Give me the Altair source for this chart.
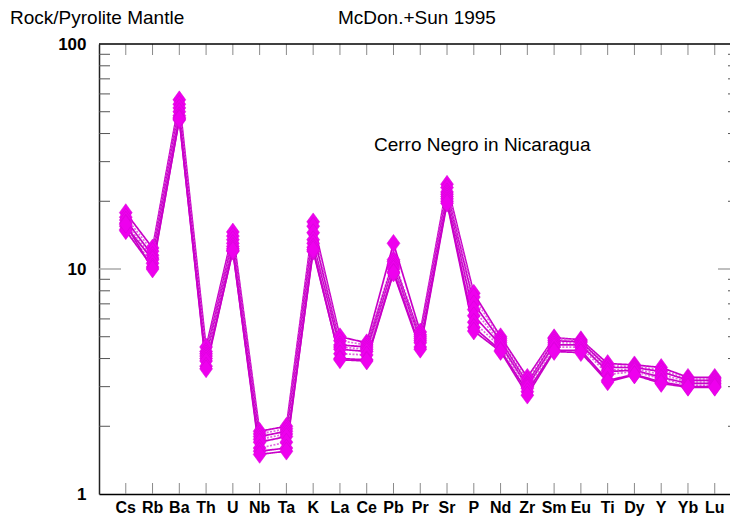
import altair as alt
import pandas as pd

# Trace elements in spider-diagram order
elements = ["Cs", "Rb", "Ba", "Th", "U", "Nb", "Ta", "K", "La", "Ce", "Pb", "Pr",
            "Sr", "P", "Nd", "Zr", "Sm", "Eu", "Ti", "Dy", "Y", "Yb", "Lu"]

# Rock / pyrolite-mantle normalised concentrations, one list per sample
cn1 = [17.8, 12.4, 56.5, 4.5, 14.6, 1.90, 2.00, 16.2, 5.00, 4.70, 13.0, 5.25, 23.8, 7.8, 5.00, 3.30, 4.95, 4.85, 3.80, 3.75, 3.65, 3.30, 3.30]
cn2 = [17.0, 12.0, 54.0, 4.3, 14.0, 1.85, 1.95, 15.5, 4.80, 4.60, 11.0, 5.10, 23.0, 7.5, 4.90, 3.20, 4.90, 4.80, 3.70, 3.70, 3.55, 3.25, 3.25]
cn3 = [16.5, 11.5, 52.0, 4.2, 13.5, 1.80, 1.90, 14.5, 4.60, 4.50, 10.8, 5.00, 22.0, 7.0, 4.80, 3.10, 4.80, 4.75, 3.65, 3.65, 3.50, 3.20, 3.20]
cn4 = [16.0, 11.2, 50.0, 4.1, 13.0, 1.75, 1.85, 13.5, 4.50, 4.40, 10.5, 4.90, 21.5, 6.6, 4.70, 3.05, 4.70, 4.70, 3.55, 3.60, 3.40, 3.15, 3.15]
cn5 = [15.5, 11.0, 48.0, 4.0, 12.6, 1.70, 1.80, 13.0, 4.40, 4.30, 10.2, 4.80, 21.0, 6.2, 4.60, 3.00, 4.60, 4.60, 3.50, 3.55, 3.30, 3.10, 3.10]
cn6 = [15.0, 10.6, 47.0, 3.9, 12.3, 1.60, 1.70, 12.5, 4.20, 4.15, 10.0, 4.70, 20.5, 5.8, 4.50, 2.95, 4.50, 4.50, 3.40, 3.50, 3.25, 3.05, 3.05]
cn7 = [14.8, 10.2, 46.0, 3.7, 12.0, 1.55, 1.60, 12.0, 4.00, 3.95, 9.7, 4.50, 20.0, 5.5, 4.35, 2.85, 4.35, 4.35, 3.20, 3.40, 3.15, 3.00, 3.00]
cn8 = [15.8, 10.0, 46.5, 3.6, 12.1, 1.50, 1.55, 12.2, 3.95, 3.90, 9.6, 4.40, 19.6, 5.3, 4.30, 2.75, 4.30, 4.25, 3.15, 3.38, 3.10, 2.98, 2.98]

samples = [cn1, cn2, cn3, cn4, cn5, cn6, cn7, cn8]
line_styles = ["solid", "dot", "solid", "dot", "solid", "dot", "solid", "solid"]

y_labels = [1, 10, 100]
minor_ticks = [2, 3, 4, 5, 6, 7, 8, 9, 20, 30, 40, 50, 60, 70, 80, 90]

W, H = 631, 450
x_max = 23.57

rows = []
for i, vals in enumerate(samples):
    for j, (el, v) in enumerate(zip(elements, vals)):
        rows.append({"sample": f"S{i+1}", "style": line_styles[i], "pos": j + 1,
                     "element": el, "value": v})
df = pd.DataFrame(rows)

xscale = alt.Scale(domain=[0, x_max], nice=False, zero=False)
yscale = alt.Scale(type="log", domain=[1, 100], nice=False)

x_enc = alt.X("pos:Q", scale=xscale,
              axis=alt.Axis(labels=False, title=None, ticks=False, grid=False,
                            domainColor="#000", domainWidth=1.5))
y_enc = alt.Y("value:Q", scale=yscale,
              axis=alt.Axis(values=y_labels, format="d", title=None, ticks=False, grid=False,
                            domainColor="#222", domainWidth=1.5,
                            labelFont="Liberation Sans", labelFontWeight="bold",
                            labelFontSize=17, labelColor="#000", labelPadding=13))

lines = alt.Chart(df).mark_line(strokeWidth=1.7).encode(
    x=x_enc,
    y=y_enc,
    detail="sample:N",
    color=alt.Color("style:N", scale=alt.Scale(domain=["solid", "dot"],
                                               range=["#C800C8", "#E066E0"]), legend=None),
    strokeDash=alt.StrokeDash("style:N", scale=alt.Scale(domain=["solid", "dot"],
                                                         range=[[1, 0], [2, 1.5]]), legend=None),
    order="pos:Q",
)

points = alt.Chart(df).mark_point(
    shape="M0,-1L0.72,0L0,1L-0.72,0Z", size=320, filled=True, opacity=1,
    color="#EE00EE", stroke="#D400D4", strokeWidth=0.5,
).encode(x=alt.X("pos:Q", scale=xscale), y=alt.Y("value:Q", scale=yscale))

# Element names under the category positions
el_df = pd.DataFrame({"pos": list(range(1, 24)), "element": elements})
el_labels = alt.Chart(el_df).mark_text(
    baseline="middle", align="center", font="Liberation Sans", fontWeight="bold",
    fontSize=16, color="#000",
).encode(x=alt.X("pos:Q", scale=xscale), y=alt.value(H + 14), text="element:N")

# Frame line along the top
top_line = alt.Chart(pd.DataFrame({"a": [0]})).mark_rule(color="#000", strokeWidth=1.5).encode(
    x=alt.value(0), x2=alt.value(W), y=alt.value(0))

# Inward tick marks on the category axis (bottom and top)
xt = pd.DataFrame({"pos": list(range(1, 24))})
xticks_bottom = alt.Chart(xt).mark_rule(color="#8a8a8a", strokeWidth=1).encode(
    x=alt.X("pos:Q", scale=xscale), y=alt.value(H - 11), y2=alt.value(H))
xticks_top = alt.Chart(xt).mark_rule(color="#8a8a8a", strokeWidth=1).encode(
    x=alt.X("pos:Q", scale=xscale), y=alt.value(0), y2=alt.value(11))

# Inward log tick marks on both sides
yt = pd.DataFrame({"v": minor_ticks})
ymajor = pd.DataFrame({"v": [10]})
yticks_left = alt.Chart(yt).mark_rule(color="#555", strokeWidth=1).encode(
    y=alt.Y("v:Q", scale=yscale), x=alt.value(0), x2=alt.value(11))
ymajor_left = alt.Chart(ymajor).mark_rule(color="#aaa", strokeWidth=1.5).encode(
    y=alt.Y("v:Q", scale=yscale), x=alt.value(0), x2=alt.value(22))
yticks_right = alt.Chart(yt).mark_rule(color="#555", strokeWidth=1).encode(
    y=alt.Y("v:Q", scale=yscale), x=alt.value(W - 2), x2=alt.value(W))
ymajor_right = alt.Chart(ymajor).mark_rule(color="#aaa", strokeWidth=1.5).encode(
    y=alt.Y("v:Q", scale=yscale), x=alt.value(W - 12), x2=alt.value(W))

def label(txt, x, y, size):
    return alt.Chart(pd.DataFrame({"t": [txt]})).mark_text(
        align="left", baseline="middle", font="Liberation Sans", fontSize=size,
        color="#000").encode(text="t:N", x=alt.value(x), y=alt.value(y))

t1 = label("Rock/Pyrolite Mantle", -89, -26, 19)
t2 = label("McDon.+Sun 1995", 239, -26, 19)
t3 = label("Cerro Negro in Nicaragua", 275, 101, 19)

chart = alt.layer(
    xticks_bottom, xticks_top, yticks_left, ymajor_left, yticks_right, ymajor_right,
    lines, points, top_line, el_labels, t1, t2, t3,
).properties(
    width=W, height=H,
    autosize=alt.AutoSizeParams(type="none"),
    padding={"left": 99, "top": 44, "right": 0, "bottom": 22},
    background="#ffffff",
).configure_view(stroke=None)

chart.save("out.html", embed_options={"renderer": "svg", "actions": False})
